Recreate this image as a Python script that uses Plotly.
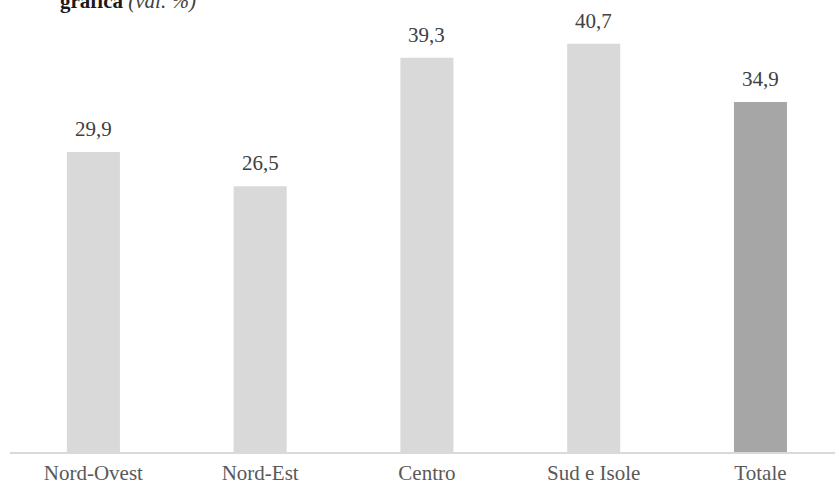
import plotly.graph_objects as go

# Regional shares (%)
categories = ["Nord-Ovest", "Nord-Est", "Centro", "Sud e Isole", "Totale"]
values = [29.9, 26.5, 39.3, 40.7, 34.9]
value_labels = ["29,9", "26,5", "39,3", "40,7", "34,9"]
bar_colors = ["#d9d9d9", "#d9d9d9", "#d9d9d9", "#d9d9d9", "#a6a6a6"]

FONT = "Liberation Serif"

fig = go.Figure(
    go.Bar(
        x=categories,
        y=values,
        marker=dict(color=bar_colors, line=dict(width=0)),
        width=0.318,
        hoverinfo="skip",
    )
)

# value labels above each bar
for cat, val, lab in zip(categories, values, value_labels):
    fig.add_annotation(
        x=cat, y=val, text=lab, showarrow=False,
        xref="x", yref="y", yanchor="bottom", yshift=9,
        font=dict(family=FONT, size=21, color="#404040"),
    )

# last line of the heading, partly above the page edge
fig.add_annotation(
    x=0, y=1, xref="paper", yref="paper",
    xanchor="left", yanchor="bottom", xshift=48, yshift=-15,
    text="<b>grafica</b> <i><span style='color:#404040'>(val. %)</span></i>",
    showarrow=False,
    font=dict(family=FONT, size=21, color="#1a1a1a"),
)

fig.update_layout(
    width=835, height=485,
    margin=dict(l=10, r=0, t=0, b=33, autoexpand=False),
    paper_bgcolor="white", plot_bgcolor="white",
    showlegend=False,
    font=dict(family=FONT, size=21, color="#595959"),
    xaxis=dict(
        range=[-0.5, 4.447],
        automargin=False,
        showgrid=False, zeroline=False,
        showline=True, linecolor="#d9d9d9", linewidth=2,
        ticks="", ticklabelstandoff=1,
        tickfont=dict(family=FONT, size=21, color="#595959"),
        fixedrange=True,
    ),
    yaxis=dict(
        range=[0, 45.06], visible=False, showgrid=False, zeroline=False,
        automargin=False, fixedrange=True,
    ),
)

fig.write_html("out.html")
